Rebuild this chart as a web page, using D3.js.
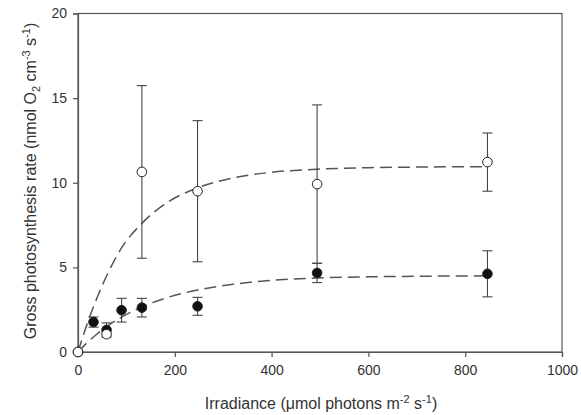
<!DOCTYPE html>
<html>
<head>
<meta charset="utf-8">
<script src="https://cdn.jsdelivr.net/npm/d3@7"></script>
<style>
  body { margin: 0; background: #fff; }
  text { font-family: "Liberation Sans", Arial, sans-serif; fill: #333; }
</style>
</head>
<body>
<div id="chart"></div>
<script>
// irradiance levels (umol photons m-2 s-1)
var irradiance = [0, 32, 59, 90, 132, 247, 494, 846];

// filled circles
var filledMean = [0, 1.77, 1.30, 2.47, 2.62, 2.70, 4.67, 4.62];
var filledErr  = [0, 0.30, 0.42, 0.70, 0.55, 0.53, 0.57, 1.36];

// open circles
var openX    = [0, 59, 132, 247, 494, 846];
var openMean = [0, 1.05, 10.64, 9.50, 9.92, 11.22];
var openErr  = [0, 0, 5.10, 4.17, 4.68, 1.72];

// fitted curves
var fitX      = [0, 20, 40, 60, 90, 132, 180, 247, 320, 400, 494, 600, 720, 846];
var fitOpen   = [0, 1.75, 3.25, 4.55, 6.15, 7.60, 8.75, 9.70, 10.28, 10.62, 10.80, 10.89, 10.93, 10.95];
var fitFilled = [0, 0.58, 1.08, 1.52, 2.06, 2.66, 3.18, 3.66, 4.00, 4.23, 4.37, 4.44, 4.48, 4.50];

var xTicks = [0, 200, 400, 600, 800, 1000];
var yTicks = [0, 5, 10, 15, 20];

var margin = { top: 13.5, right: 19, bottom: 63, left: 78 },
  width = 581 - margin.left - margin.right,
  height = 415 - margin.top - margin.bottom;

var svg = d3.select("#chart")
  .append("svg")
  .attr("width", 581)
  .attr("height", 415)
  .append("g")
  .attr("transform", "translate(" + margin.left + "," + margin.top + ")");

var x = d3.scaleLinear().domain([0, 1000]).range([0, width]);
var y = d3.scaleLinear().domain([0, 20]).range([height, 0]);

var axisColor = "#555";

// frame
svg.append("rect")
  .attr("width", width)
  .attr("height", height)
  .attr("fill", "none")
  .attr("stroke", axisColor)
  .attr("stroke-width", 1.2);

var xAxis = svg.append("g")
  .attr("transform", "translate(0," + height + ")")
  .call(d3.axisBottom(x).tickValues(xTicks).tickFormat(d3.format("d"))
    .tickSizeOuter(0).tickSize(5).tickPadding(8));
var yAxis = svg.append("g")
  .call(d3.axisLeft(y).tickValues(yTicks).tickFormat(d3.format("d"))
    .tickSizeOuter(0).tickSize(5).tickPadding(6));

[xAxis, yAxis].forEach(function(a) {
  a.select(".domain").attr("stroke", axisColor).attr("stroke-width", 1.2);
  a.selectAll(".tick line").attr("stroke", axisColor).attr("stroke-width", 1.2);
  a.selectAll(".tick text")
    .style("font-family", "'Liberation Sans', Arial, sans-serif")
    .style("font-size", "14px")
    .attr("fill", "#333");
});

// axis titles
var xt = svg.append("text")
  .attr("x", width / 2 + 1)
  .attr("y", height + 57)
  .style("text-anchor", "middle")
  .style("font-size", "16px");
xt.append("tspan").text("Irradiance (\u03bcmol photons m");
xt.append("tspan").attr("dy", -6).style("font-size", "11px").text("-2");
xt.append("tspan").attr("dy", 6).text(" s");
xt.append("tspan").attr("dy", -6).style("font-size", "11px").text("-1");
xt.append("tspan").attr("dy", 6).text(")");

var yt = svg.append("text")
  .attr("transform", "rotate(-90)")
  .attr("x", -167.5)
  .attr("y", -42)
  .style("text-anchor", "middle")
  .style("font-size", "16px");
yt.append("tspan").text("Gross photosynthesis rate (nmol O");
yt.append("tspan").attr("dy", 4).style("font-size", "11px").text("2");
yt.append("tspan").attr("dy", -4).text(" cm");
yt.append("tspan").attr("dy", -6).style("font-size", "11px").text("-3");
yt.append("tspan").attr("dy", 6).text(" s");
yt.append("tspan").attr("dy", -6).style("font-size", "11px").text("-1");
yt.append("tspan").attr("dy", 6).text(")");

// fit curves
var line = d3.line().curve(d3.curveMonotoneX);
function drawFit(vals) {
  svg.append("path")
    .datum(fitX.map(function(v, i) { return [x(v), y(vals[i])]; }))
    .attr("fill", "none")
    .attr("stroke", "#555")
    .attr("stroke-width", 1.5)
    .attr("stroke-dasharray", "12,6")
    .attr("d", line);
}
drawFit(fitOpen);
drawFit(fitFilled);

// error bars + points
function drawSeries(xs, means, errs, fill) {
  var g = svg.append("g");
  xs.forEach(function(v, i) {
    if (errs[i] > 0) {
      var cx = x(v), y0 = y(means[i] - errs[i]), y1 = y(means[i] + errs[i]);
      g.append("line").attr("x1", cx).attr("x2", cx).attr("y1", y0).attr("y2", y1)
        .attr("stroke", "#444").attr("stroke-width", 1.1);
      [y0, y1].forEach(function(yy) {
        g.append("line").attr("x1", cx - 5).attr("x2", cx + 5).attr("y1", yy).attr("y2", yy)
          .attr("stroke", "#444").attr("stroke-width", 1.1);
      });
    }
  });
  g.selectAll("circle")
    .data(xs)
    .enter()
    .append("circle")
    .attr("cx", function(d) { return x(d); })
    .attr("cy", function(d, i) { return y(means[i]); })
    .attr("r", 4.8)
    .attr("fill", fill)
    .attr("stroke", "#222")
    .attr("stroke-width", 1);
}
drawSeries(irradiance, filledMean, filledErr, "#111");
drawSeries(openX, openMean, openErr, "#fff");
</script>
</body>
</html>
